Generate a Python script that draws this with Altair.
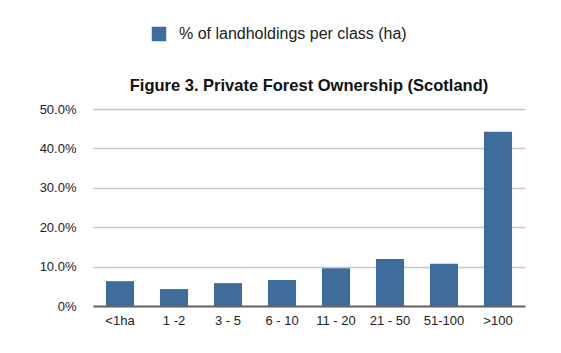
import altair as alt
import pandas as pd

categories = ["<1ha", "1 -2", "3 - 5", "6 - 10", "11 - 20", "21 - 50", "51-100", ">100"]
values = [6.3, 4.3, 5.8, 6.6, 9.6, 11.9, 10.7, 44.2]
series_name = "% of landholdings per class (ha)"

df = pd.DataFrame({"class": categories, "pct": values, "series": [series_name] * len(categories)})

FONT = "Liberation Sans"

chart = alt.Chart(df).mark_bar(color="#3e6d9c").encode(
    x=alt.X("class:N", sort=categories, title=None,
            scale=alt.Scale(paddingInner=0.48, paddingOuter=0.24),
            axis=alt.Axis(labelAngle=0, labelFontSize=13, labelColor="#222222", labelFont=FONT,
                          ticks=False, domainColor="#666666", domainWidth=2, labelPadding=8, grid=False)),
    y=alt.Y("pct:Q", title=None,
            scale=alt.Scale(domain=[0, 50], nice=False),
            axis=alt.Axis(values=[0, 10, 20, 30, 40, 50],
                          labelExpr="datum.value == 0 ? '0%' : format(datum.value, '.1f') + '%'",
                          labelFontSize=13, labelColor="#222222", labelFont=FONT,
                          ticks=False, domain=False, gridColor="#c8c8c8", gridWidth=1.5,
                          labelPadding=17)),
    fill=alt.Fill("series:N", scale=alt.Scale(range=["#3e6d9c"]),
                  legend=alt.Legend(title=None, orient="none", legendX=58, legendY=-83,
                                    symbolType="square", symbolSize=210, symbolStrokeWidth=0,
                                    labelFontSize=16, labelFont=FONT, labelColor="#222222",
                                    labelOffset=12, labelLimit=0)),
).properties(
    width=432, height=197,
    title=alt.Title("Figure 3. Private Forest Ownership (Scotland)", font=FONT, fontSize=16.5,
                    fontWeight="bold", color="#111111", offset=0, anchor="middle", dy=68),
    autosize=alt.AutoSizeParams(type="none"),
    padding={"left": 93, "top": 109, "right": 36, "bottom": 47},
).configure(background="white").configure_view(stroke=None)

chart.save("out.html", embed_options={"renderer": "svg", "actions": False})
